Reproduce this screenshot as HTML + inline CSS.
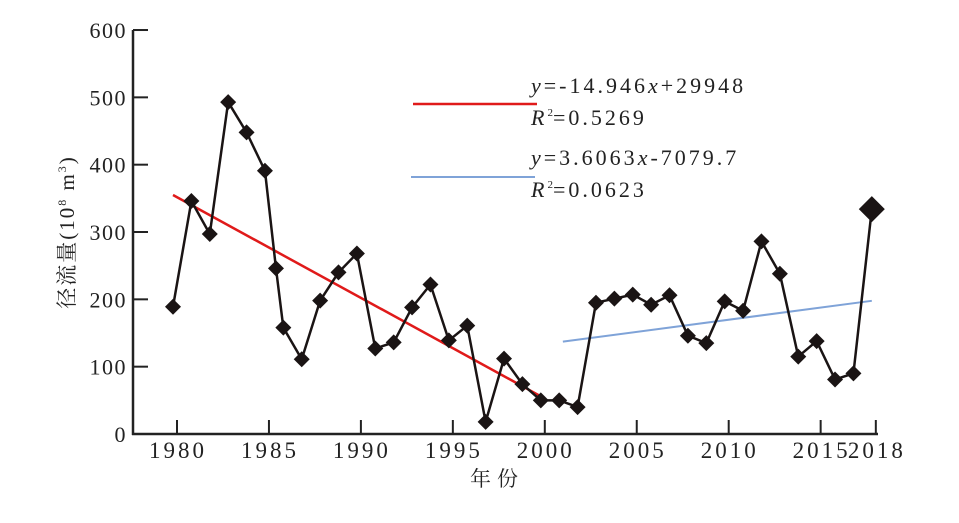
<!DOCTYPE html>
<html><head><meta charset="utf-8"><style>
body{margin:0;background:#fff;}
svg{display:block;font-family:"Liberation Serif","Noto Serif CJK SC",serif;}
</style></head><body>
<svg id="chart" width="959" height="523" viewBox="0 0 959 523">
<g id="axes"></g>
<g id="trend"></g>
<g id="series"></g>
<g id="legend" letter-spacing="3">
 <line x1="413" y1="104" x2="537" y2="104" stroke="#e01a1a" stroke-width="2.5"/>
 <text x="531" y="93" font-size="22" fill="#222"><tspan font-style="italic">y</tspan>=-14.946<tspan font-style="italic">x</tspan>+29948</text>
 <text x="531" y="125" font-size="22" fill="#222"><tspan font-style="italic">R</tspan><tspan font-size="11" dy="-9" letter-spacing="0">2</tspan><tspan dy="9">=0.5269</tspan></text>
 <line x1="411" y1="177" x2="535" y2="177" stroke="#7fa3d8" stroke-width="2"/>
 <text x="531" y="165" font-size="22" fill="#222"><tspan font-style="italic">y</tspan>=3.6063<tspan font-style="italic">x</tspan>-7079.7</text>
 <text x="531" y="197" font-size="22" fill="#222"><tspan font-style="italic">R</tspan><tspan font-size="11" dy="-9" letter-spacing="0">2</tspan><tspan dy="9">=0.0623</tspan></text>
</g>
<text transform="translate(74,232) rotate(-90)" text-anchor="middle" font-size="21" letter-spacing="2" fill="#222">径流量(10<tspan font-size="12" dy="-8">8</tspan><tspan dy="8"> m</tspan><tspan font-size="12" dy="-8">3</tspan><tspan dy="8">)</tspan></text>
<text x="497" y="486" text-anchor="middle" font-size="21" letter-spacing="6" fill="#222">年份</text>
</svg>
<script>
const years=[1980,1981,1982,1983,1984,1985,1985.6,1986,1987,1988,1989,1990,1991,1992,1993,1994,1995,1996,1997,1998,1999,2000,2001,2002,2003,2004,2005,2006,2007,2008,2009,2010,2011,2012,2013,2014,2015,2016,2017,2018];
const runoff=[189,346,297,493,448,391,246,158,111,198,240,268,127,136,188,222,139,161,18,112,74,50,50,40,195,201,207,192,206,146,135,197,183,286,238,115,138,81,90,334];
const xTicks=[1980,1985,1990,1995,2000,2005,2010,2015,2018];
const yTicks=[0,100,200,300,400,500,600];
const redFit=[-14.946,29948];
const blueFit=[3.6063,-7079.7];
const NS="http://www.w3.org/2000/svg";
const xs=y=>177+(y-1980)*18.39;
const px=y=>xs(y)-4;
const ys=v=>434-v*0.6733;
function mk(tag,attrs,parent){const e=document.createElementNS(NS,tag);for(const k in attrs)e.setAttribute(k,attrs[k]);parent.appendChild(e);return e;}
const axes=document.getElementById('axes');
let e=mk('line',{x1:133,y1:30,x2:133,y2:435,stroke:'#222','stroke-width':2.5},axes);


e=mk('line',{x1:132,y1:434,x2:878,y2:434,stroke:'#222','stroke-width':2.5},axes);


yTicks.forEach(v=>{
 const t=mk('line',{x1:133,y1:ys(v),x2:148,y2:ys(v),stroke:'#222','stroke-width':2},axes);
 
 
 const l=mk('text',{x:127,y:ys(v)+8,'text-anchor':'end','font-size':22,'letter-spacing':1.5,fill:'#222'},axes);
 l.textContent=v;
 
 
});
xTicks.forEach(v=>{
 const t=mk('line',{x1:xs(v),y1:420,x2:xs(v),y2:434,stroke:'#222','stroke-width':2},axes);
 
 
 const l=mk('text',{x:xs(v)+1,y:458,'text-anchor':'middle','font-size':23,'letter-spacing':3,fill:'#222'},axes);
 l.textContent=v;
 
 
});
const tr=document.getElementById('trend');
const f=(c,y)=>c[0]*y+c[1];
e=mk('line',{x1:px(1980),y1:ys(f(redFit,1980)),x2:px(2000),y2:ys(f(redFit,2000)),stroke:'#e01a1a','stroke-width':2.5},tr);


e=mk('line',{x1:px(2001.2),y1:ys(f(blueFit,2001.2)),x2:px(2018),y2:ys(f(blueFit,2018)),stroke:'#7fa3d8','stroke-width':2},tr);


const sg=document.getElementById('series');
const pts=years.map((y,i)=>px(y)+','+ys(runoff[i])).join(' ');
e=mk('polyline',{points:pts,fill:'none',stroke:'#1a1414','stroke-width':2.5},sg);


years.forEach((y,i)=>{
 const cx=px(y),cy=ys(runoff[i]),r=(i===years.length-1)?13:8;
 const d=mk('polygon',{points:`${cx},${cy-r} ${cx+r},${cy} ${cx},${cy+r} ${cx-r},${cy}`,fill:'#1a1414'},sg);
 
 
});
</script>
</body></html>
